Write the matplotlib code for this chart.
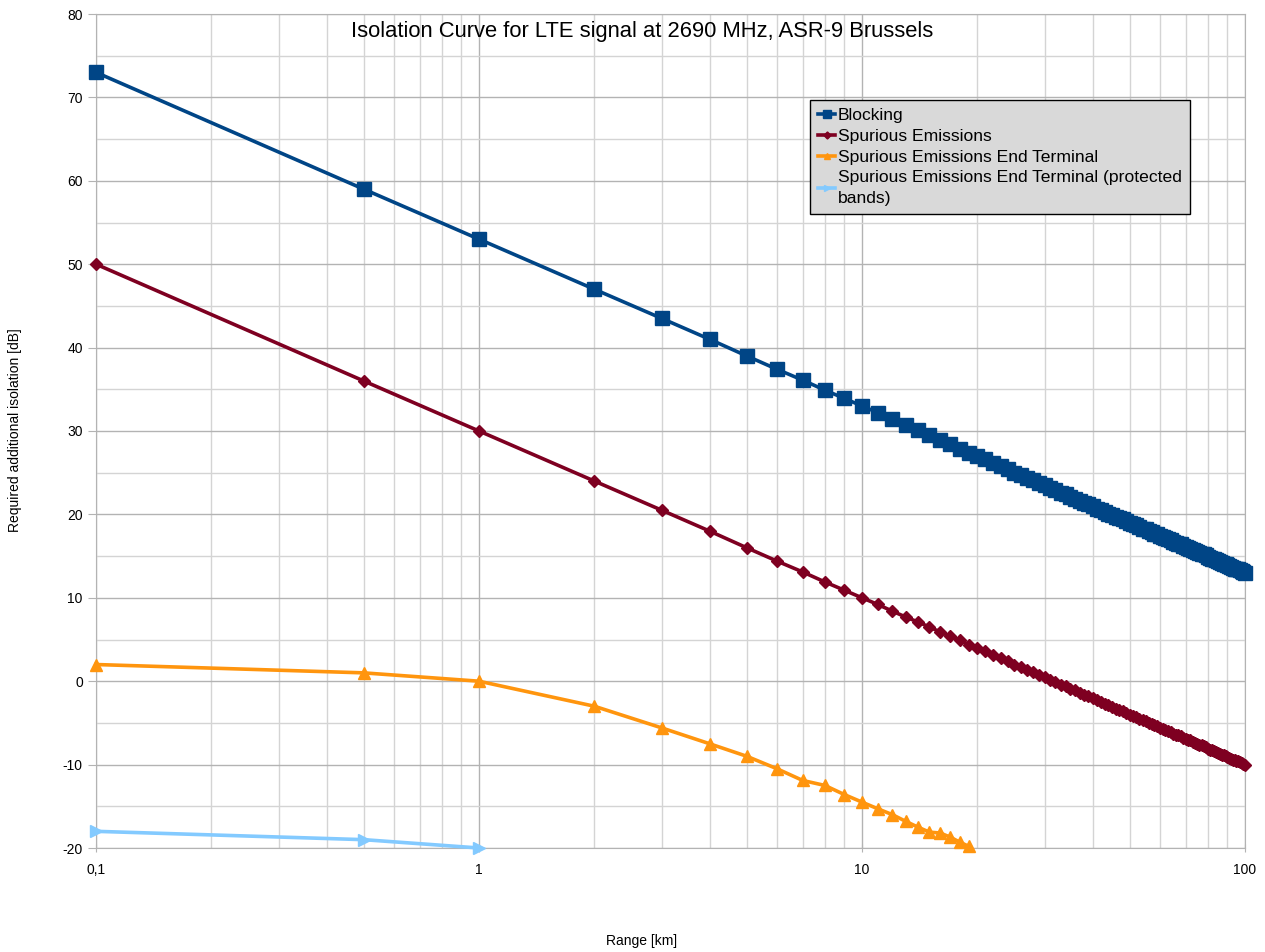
"""Isolation curve for LTE signal at 2690 MHz, ASR-9 Brussels."""
import matplotlib.pyplot as plt
from matplotlib.ticker import FixedLocator, FixedFormatter, MultipleLocator, NullFormatter

plt.rcParams["font.family"] = ["Liberation Sans", "DejaVu Sans"]
plt.rcParams["axes.unicode_minus"] = False

range_km = [0.1, 0.5] + list(range(1, 101))

blocking = [
    73.0, 59.0,
    53.0, 47.0, 43.5, 41.0, 39.0, 37.4, 36.1, 34.9, 33.9, 33.0,
    32.2, 31.4, 30.7, 30.1, 29.5, 28.9, 28.4, 27.9, 27.4, 27.0,
    26.6, 26.2, 25.8, 25.4, 25.0, 24.7, 24.4, 24.1, 23.8, 23.5,
    23.2, 22.9, 22.6, 22.4, 22.1, 21.9, 21.6, 21.4, 21.2, 21.0,
    20.7, 20.5, 20.3, 20.1, 19.9, 19.7, 19.6, 19.4, 19.2, 19.0,
    18.8, 18.7, 18.5, 18.3, 18.2, 18.0, 17.9, 17.7, 17.6, 17.4,
    17.3, 17.2, 17.0, 16.9, 16.7, 16.6, 16.5, 16.4, 16.2, 16.1,
    16.0, 15.9, 15.7, 15.6, 15.5, 15.4, 15.3, 15.2, 15.1, 14.9,
    14.8, 14.7, 14.6, 14.5, 14.4, 14.3, 14.2, 14.1, 14.0, 13.9,
    13.8, 13.7, 13.6, 13.5, 13.4, 13.4, 13.3, 13.2, 13.1, 13.0,
]

spurious = [
    50.0, 36.0,
    30.0, 24.0, 20.5, 18.0, 16.0, 14.4, 13.1, 11.9, 10.9, 10.0,
    9.2, 8.4, 7.7, 7.1, 6.5, 5.9, 5.4, 4.9, 4.4, 4.0,
    3.6, 3.2, 2.8, 2.4, 2.0, 1.7, 1.4, 1.1, 0.8, 0.5,
    0.2, -0.1, -0.4, -0.6, -0.9, -1.1, -1.4, -1.6, -1.8, -2.0,
    -2.3, -2.5, -2.7, -2.9, -3.1, -3.3, -3.4, -3.6, -3.8, -4.0,
    -4.2, -4.3, -4.5, -4.7, -4.8, -5.0, -5.1, -5.3, -5.4, -5.6,
    -5.7, -5.8, -6.0, -6.1, -6.3, -6.4, -6.5, -6.6, -6.8, -6.9,
    -7.0, -7.1, -7.3, -7.4, -7.5, -7.6, -7.7, -7.8, -7.9, -8.1,
    -8.2, -8.3, -8.4, -8.5, -8.6, -8.7, -8.8, -8.9, -9.0, -9.1,
    -9.2, -9.3, -9.4, -9.5, -9.6, -9.6, -9.7, -9.8, -9.9, -10.0,
]

terminal_km = [0.1, 0.5] + list(range(1, 20))
terminal = [
    2.0, 1.0,
    0.0, -3.0, -5.6, -7.5, -9.0, -10.5, -11.9, -12.5, -13.6, -14.5,
    -15.3, -16.0, -16.8, -17.5, -18.1, -18.2, -18.7, -19.3, -19.8,
]

protected_km = [0.1, 0.5, 1]
protected = [-18.0, -19.0, -20.0]

fig = plt.figure(figsize=(12.65, 9.52), dpi=100)
ax = fig.add_axes([96 / 1265, 1 - 848 / 952, 1149 / 1265, 834 / 952])

ax.plot(range_km, blocking, color="#004586", lw=2.6, marker="s", ms=10,
        label="Blocking", clip_on=False, zorder=5)
ax.plot(range_km, spurious, color="#7e0021", lw=2.6, marker="D", ms=6.5,
        label="Spurious Emissions", clip_on=False, zorder=5)
ax.plot(terminal_km, terminal, color="#ff950e", lw=2.6, marker="^", ms=9,
        label="Spurious Emissions End Terminal", clip_on=False, zorder=5)
ax.plot(protected_km, protected, color="#83caff", lw=2.6, marker=">", ms=9,
        label="Spurious Emissions End Terminal (protected\nbands)", clip_on=False, zorder=5)

ax.set_xscale("log")
ax.set_xlim(0.1, 100)
ax.set_ylim(-20, 80)
ax.xaxis.set_major_locator(FixedLocator([0.1, 1, 10, 100]))
ax.xaxis.set_major_formatter(FixedFormatter(["0,1", "1", "10", "100"]))
minors = [m * d for d in (0.1, 1, 10) for m in range(2, 10)]
ax.xaxis.set_minor_locator(FixedLocator(minors))
ax.xaxis.set_minor_formatter(NullFormatter())
ax.yaxis.set_major_locator(MultipleLocator(10))
ax.yaxis.set_minor_locator(MultipleLocator(5))

ax.grid(which="major", color="#b3b3b3", lw=1.0)
ax.grid(which="minor", color="#d4d4d4", lw=1.0)
ax.set_axisbelow(True)
for spine in ax.spines.values():
    spine.set_color("#b3b3b3")
ax.tick_params(which="both", colors="#b3b3b3", labelcolor="black", labelsize=10)
ax.tick_params(axis="x", which="minor", length=0)
ax.tick_params(axis="x", which="major", length=6, direction="inout", pad=8)
ax.tick_params(axis="y", which="major", length=6, direction="out")
ax.tick_params(axis="y", which="minor", length=0)

fig.text(642 / 1265, 1 - 31 / 952, "Isolation Curve for LTE signal at 2690 MHz, ASR-9 Brussels",
         ha="center", va="center", fontsize=15.8)
fig.text(642 / 1265, 1 - 941 / 952, "Range [km]", ha="center", va="center", fontsize=10)
fig.text(15 / 1265, 1 - 430 / 952, "Required additional isolation [dB]",
         ha="center", va="center", rotation=90, fontsize=10)

leg = ax.legend(loc="upper left", bbox_to_anchor=(810 / 1265, 1 - 100 / 952),
                bbox_transform=fig.transFigure, borderaxespad=0, fancybox=False,
                facecolor="#d9d9d9", edgecolor="black", framealpha=1, fontsize=12.6,
                handlelength=1.0, handletextpad=0.15, labelspacing=0.32,
                borderpad=0.45, markerscale=0.55)
leg.get_frame().set_linewidth(1.0)
for text in leg.get_texts():
    text.set_linespacing(1.45)

fig.savefig("out.png", dpi=100)
